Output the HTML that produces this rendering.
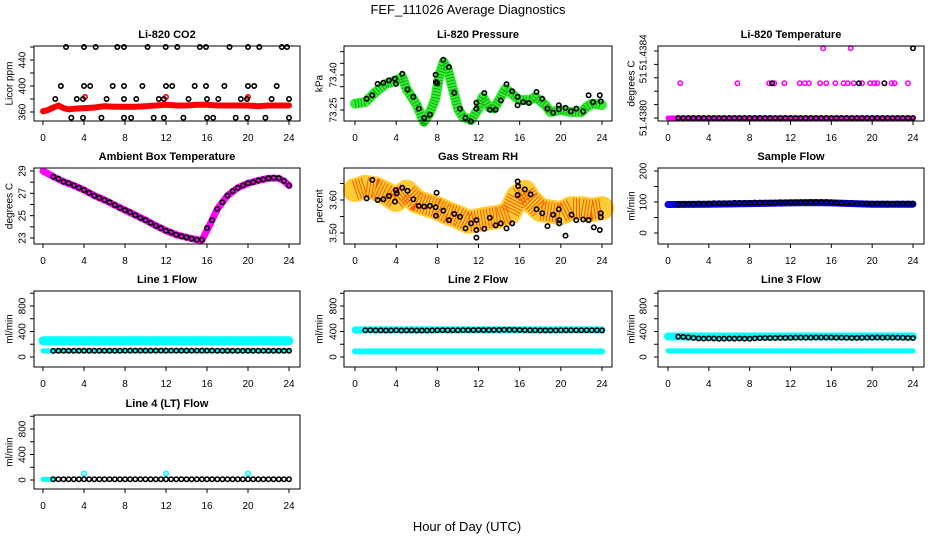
<!DOCTYPE html>
<html><head><meta charset="utf-8">
<style>
html,body{margin:0;padding:0;background:#fff;}
svg{display:block;font-family:"Liberation Sans",Arial,sans-serif;}
</style></head>
<body>
<svg id="chart" width="936" height="540" viewBox="0 0 936 540" xmlns="http://www.w3.org/2000/svg">
<rect width="936" height="540" fill="#fff"/>
<text x="468" y="14" text-anchor="middle" font-size="13">FEF_111026  Average Diagnostics</text>
<text x="467" y="531" text-anchor="middle" font-size="13">Hour of Day (UTC)</text>
</svg>
<script>
// ---- shared hours for hourly-average circles ----
const circHours = [1,1.5,2,2.5,3,3.5,4,4.5,5,5.5,6,6.5,7,7.5,8,8.5,9,9.5,10,10.5,11,11.5,12,12.5,13,13.5,14,14.5,15,15.5,16,16.5,17,17.5,18,18.5,19,19.5,20,20.5,21,21.5,22,22.5,23,23.5,24];
const xTicks = [0,4,8,12,16,20,24];

// ---- CO2 ----
const co2BandHours = [0,0.5,1,1.5,2,2.5,3,4,5,6,7,8,9,10,11,12,13,14,15,16,17,18,19,20,21,22,23,24];
const co2BandVals = [361,363,367,370,366,364,365,366,367,369,368,368,368,369,370,371,370,370,371,371,370,370,370,370,369,370,370,370];
const co2RedHours = [4.1,12,20];
const co2RedVals = [383,383,383];
const co2BlkHours = [2.24,4.0,5.14,7.25,7.9,10.2,11.97,13.1,15.3,15.9,18.2,20.0,21.1,23.3,23.8, 1.75,4.0,4.6,6.8,7.9,9.7,12,12.6,14.8,15.9,17.7,20,20.6,22.8, 1.2,3.3,3.9,6.2,7.9,9.1,11.3,11.8,14.2,16.0,17.1,19.3,19.9,22.3,24, 2.76,3.9,5.7,7.9,8.6,10.8,11.8,13.7,16,16.6,18.8,19.9,21.7,24];
const co2BlkVals = [460,460,460,460,460,460,460,460,460,460,460,460,460,460,460, 400,400,400,400,400,400,400,400,400,400,400,400,400,400, 380,380,380,380,380,380,380,380,380,380,380,380,380,380,380, 351,351,351,351,351,351,351,351,351,351,351,351,351,351];

// ---- Pressure ----
const presBandHours = [0,1,2,3,4,4.6,5,6,6.7,7.3,7.8,8.2,8.6,9,9.5,10,10.5,11.3,12,12.4,13,13.5,14,14.6,15.2,16,17,17.5,18.5,19,20,21,22,22.5,23,24];
const presBandVals = [73.277,73.284,73.327,73.362,73.377,73.391,73.341,73.271,73.199,73.241,73.298,73.400,73.455,73.427,73.341,73.256,73.220,73.207,73.256,73.306,73.263,73.256,73.293,73.341,73.320,73.293,73.293,73.306,73.271,73.241,73.250,73.241,73.241,73.263,73.277,73.271];
const presBlkHours = [1.13,1.68,2.2,2.75,3.3,3.88,3.98,4.6,5.1,5.66,6.2,6.73,7.28,7.83,7.86,8.0,8.58,9.13,9.64,10.2,10.74,11.26,11.8,11.8,12.56,13.1,13.66,14.17,14.72,15.27,15.8,15.8,16.34,16.9,17.64,18.19,18.7,19.25,19.8,19.8,20.45,20.97,21.5,22.17,22.7,23.14,23.79,23.88];
const presBlkVals = [73.298,73.313,73.362,73.367,73.377,73.384,73.362,73.405,73.338,73.306,73.256,73.216,73.230,73.401,73.370,73.365,73.465,73.434,73.324,73.256,73.216,73.202,73.281,73.256,73.323,73.251,73.251,73.291,73.360,73.330,73.306,73.270,73.284,73.280,73.327,73.298,73.256,73.238,73.270,73.253,73.259,73.244,73.256,73.244,73.313,73.284,73.313,73.287];

// ---- Li-820 Temperature ----
const ltBandHours = [0,24];
const ltBandVals = [51.4380,51.4380];
const ltMagHours = [1.2,6.8,9.9,10.4,11.4,12.9,13.4,13.8,14.9,15.5,16.4,17.2,17.6,18.2,19.0,19.8,20.2,20.5,21.9,22.2,23.5,15.2,17.9];
const ltMagVals = [51.43826,51.43826,51.43826,51.43826,51.43826,51.43826,51.43826,51.43826,51.43826,51.43826,51.43826,51.43826,51.43826,51.43826,51.43826,51.43826,51.43826,51.43826,51.43826,51.43826,51.43826,51.43852,51.43852];
const ltBlkVals = [51.4380,51.4380,51.4380,51.4380,51.4380,51.4380,51.4380,51.4380,51.4380,51.4380,51.4380,51.4380,51.4380,51.4380,51.4380,51.4380,51.4380,51.4380,51.4380,51.4380,51.4380,51.4380,51.4380,51.4380,51.4380,51.4380,51.4380,51.4380,51.4380,51.4380,51.4380,51.4380,51.4380,51.4380,51.4380,51.4380,51.4380,51.4380,51.4380,51.4380,51.4380,51.4380,51.4380,51.4380,51.4380,51.4380,51.4380];
const ltBlkExtraHours = [10.2,18.7,21.2,24];
const ltBlkExtraVals = [51.43826,51.43826,51.43826,51.43852];

// ---- Ambient Box Temperature ----
const ambBandHours = [0,1,2,3,4,5,6,7,8,9,10,11,12,13,14,15,15.5,16,16.5,17,18,19,20,21,22,23,23.5,24];
const ambBandVals = [29.0,28.5,28.05,27.7,27.3,26.8,26.4,25.95,25.5,25.05,24.6,24.1,23.65,23.3,23.05,22.85,22.8,23.7,24.6,25.6,26.8,27.5,27.9,28.15,28.35,28.35,28.1,27.7];
const ambBlkVals = [28.5,28.3,28.05,27.9,27.7,27.5,27.3,27.05,26.8,26.6,26.4,26.2,25.95,25.7,25.5,25.3,25.05,24.8,24.6,24.35,24.1,23.9,23.65,23.5,23.3,23.15,23.05,22.95,22.85,22.85,23.9,24.6,25.6,26.2,26.8,27.2,27.5,27.7,27.9,28.0,28.15,28.25,28.35,28.4,28.35,28.1,27.7];

// ---- Gas Stream RH ----
const rhBandHours = [0,1,2,3,4,5,6,7,8,9,10,11,12,13,14,15,15.8,16.5,17,18,19,20,21,22,23,24];
const rhBandVals = [3.630,3.640,3.635,3.620,3.600,3.625,3.595,3.585,3.575,3.560,3.549,3.534,3.539,3.545,3.549,3.560,3.610,3.625,3.600,3.570,3.565,3.560,3.575,3.575,3.570,3.575];
const rhBlkHours = [1.13,1.68,2.2,2.75,3.3,3.88,3.98,4.05,4.6,5.1,5.66,6.2,6.73,7.28,7.83,7.93,7.86,8.58,9.13,9.64,10.2,10.74,11.26,11.8,11.8,11.8,12.56,13.1,13.66,14.17,14.72,15.27,15.8,15.86,15.8,16.5,17.06,17.64,18.19,18.7,19.25,19.8,19.84,19.84,20.45,21.04,21.5,22.17,22.7,23.2,23.79,23.88,23.88];
const rhBlkVals = [3.605,3.661,3.600,3.602,3.612,3.595,3.630,3.620,3.637,3.628,3.602,3.582,3.580,3.582,3.578,3.622,3.552,3.568,3.539,3.558,3.549,3.514,3.529,3.539,3.509,3.486,3.513,3.546,3.523,3.529,3.514,3.529,3.656,3.642,3.615,3.632,3.617,3.572,3.560,3.521,3.555,3.572,3.539,3.529,3.492,3.555,3.539,3.541,3.539,3.517,3.509,3.560,3.548];

// ---- Sample Flow ----
const sfBandHours = [0,4,8,12,14,16,20,24];
const sfBandVals = [92,93,95,97,98,97,93,93];
const sfBlkVals = [93,94,94,94,95,94,95,96,96,96,96,97,97,97,97,98,98,98,98,98,99,99,99,99,99,99,100,100,100,100,99,97,96,96,96,95,95,95,95,95,95,95,94,95,95,95,95];

// ---- Line flows ----
const l1UpperHours = [0,24];  const l1UpperVals = [255,255];
const l1LowerHours = [0,24];  const l1LowerVals = [95,95];
const l1BlkVals = [96,97,97,97,98,98,98,98,99,99,98,99,99,99,100,100,100,100,101,100,101,101,101,101,101,100,100,100,101,101,101,100,99,99,99,98,98,98,97,97,97,97,97,97,97,97,97];
const l2UpperHours = [0,24];  const l2UpperVals = [425,425];
const l2LowerHours = [0,24];  const l2LowerVals = [88,88];
const l2BlkVals = [420,420,418,418,415,418,420,416,418,418,416,415,415,418,420,422,420,420,420,422,422,422,424,422,423,424,424,426,426,425,424,422,420,420,418,418,417,418,420,420,420,420,420,420,420,420,418];
const l3UpperHours = [0,24];  const l3UpperVals = [322,322];
const l3LowerHours = [0,24];  const l3LowerVals = [95,95];
const l3BlkVals = [320,315,308,300,292,288,292,290,285,288,290,288,290,288,286,292,296,298,298,298,300,300,302,304,304,304,304,306,306,306,306,305,304,302,300,300,302,304,305,306,304,306,304,304,302,300,298];
const l4BandHours = [0,1];  const l4BandVals = [10,10];
const l4CyanHours = [4,12,20]; const l4CyanVals = [100,100,100];
const l4BlkVals = [12,12,12,12,12,12,12,12,12,12,12,12,12,12,12,12,12,12,12,12,12,12,12,12,12,12,12,12,12,12,12,12,12,12,12,12,12,12,12,12,12,12,12,12,12,12,12];

// ---- layout ----
const cols = [{x0:34,x1:300,h0:43,h24:289,tl:22,yl:9},{x0:344,x1:612,h0:355,h24:602,tl:333,yl:319},{x0:658,x1:924,h0:668,h24:913,tl:643,yl:631}];
const rows = [{y0:46,y1:121},{y0:168,y1:244},{y0:291,y1:367},{y0:415,y1:489}];
const NS = 'http://www.w3.org/2000/svg';
const svg = document.getElementById('chart');

function mk(tag, parent, attrs){
  const el = document.createElementNS(NS, tag);
  for (const k in attrs) el.setAttribute(k, attrs[k]);
  parent.appendChild(el);
  return el;
}

function panel(ci, ri, name, title, ylab, v0, p0, v1, p1, ticks, labels){
  const c = cols[ci], r = rows[ri];
  const g = mk('g', svg, {});
  
  
  const xs = h => c.h0 + h * (c.h24 - c.h0) / 24;
  const ys = v => p0 + (v - v0) * (p1 - p0) / (v1 - v0);
  const plot = mk('g', g, {});
  
  
  const box = mk('rect', g, {x:c.x0, y:r.y0, width:c.x1-c.x0, height:r.y1-r.y0, fill:'none', stroke:'#000', 'stroke-width':1});
  
  
  const t = mk('text', g, {x:(c.x0+c.x1)/2, y:r.y0-8, 'text-anchor':'middle', 'font-size':11, 'font-weight':'bold'});
  t.textContent = title;
  
  
  const yl = mk('text', g, {x:c.yl, y:(r.y0+r.y1)/2, 'text-anchor':'middle', 'font-size':10, transform:'rotate(-90 '+c.yl+' '+((r.y0+r.y1)/2)+')', dy:'0.35em'});
  yl.textContent = ylab;
  
  
  const xa = mk('g', g, {});
  
  
  mk('line', xa, {x1:xs(0), x2:xs(24), y1:r.y1, y2:r.y1, stroke:'#000'});
  xTicks.forEach(h => {
    mk('line', xa, {x1:xs(h), x2:xs(h), y1:r.y1, y2:r.y1+4, stroke:'#000'});
    const tl = mk('text', xa, {x:xs(h), y:r.y1+20, 'text-anchor':'middle', 'font-size':10});
    tl.textContent = h;
    
    
  });
  const ya = mk('g', g, {});
  
  
  ticks.forEach(v => {
    mk('line', ya, {x1:c.x0-4, x2:c.x0, y1:ys(v), y2:ys(v), stroke:'#000'});
  });
  labels.forEach(l => {
    const yy = ys(l[0]);
    const tl = mk('text', ya, {x:c.tl, y:yy, 'text-anchor':'middle', 'font-size':10, dy:'0.35em', transform:'rotate(-90 '+c.tl+' '+yy+')'});
    tl.textContent = l[1];
    
    
  });
  return {plot, xs, ys};
}

function band(p, hours, vals, color, width, name){
  const pts = hours.map((h,i) => p.xs(h).toFixed(1) + ',' + p.ys(vals[i]).toFixed(1)).join(' ');
  const pl = mk('polyline', p.plot, {points:pts, fill:'none', stroke:color, 'stroke-width':width, 'stroke-linejoin':'round', 'stroke-linecap':'round'});
  
  
  return pl;
}
function texture(pl, dash){
  pl.setAttribute('stroke-dasharray', dash);
  pl.setAttribute('stroke-linecap', 'butt');
}
function dots(p, hours, vals, color, name){
  const g = mk('g', p.plot, {});
  
  
  for (let i = 0; i < vals.length; i++){
    const c = mk('circle', g, {cx:p.xs(hours[i]).toFixed(1), cy:p.ys(vals[i]).toFixed(1), r:2.2, fill:'none', stroke:color, 'stroke-width':1.6});
    
    
  }
}

// Li-820 CO2
let p = panel(0,0,'co2','Li-820 CO2','Licor ppm',360,112,440,60,[360,380,400,420,440,460],[[360,'360'],[400,'400'],[440,'440']]);
band(p, co2BandHours, co2BandVals, '#ff0000', 6, 'co2-raw-band');
dots(p, co2RedHours, co2RedVals, '#ff0000', 'co2-raw-outliers');
dots(p, co2BlkHours, co2BlkVals, '#000', 'co2-hourly-averages');

// Pressure
p = panel(1,0,'pressure','Li-820 Pressure','kPa',73.25,110,73.40,75,[73.25,73.30,73.35,73.40,73.45,73.50],[[73.25,'73.25'],[73.40,'73.40']]);
band(p, presBandHours, presBandVals, '#33ee33', 10, 'pressure-raw-band');
texture(band(p, presBandHours, presBandVals, '#11aa11', 8, 'pressure-raw-texture'), '1 2');
dots(p, presBlkHours, presBlkVals, '#000', 'pressure-hourly-averages');

// Li-820 Temperature
p = panel(2,0,'licor-temp','Li-820 Temperature','degrees C',51.4380,118,51.4385,51,[51.4380,51.4381,51.4382,51.4383,51.4384,51.4385],[[51.4380,'51.4380'],[51.4383,'51'],[51.43849,'51.4384']]);
band(p, ltBandHours, ltBandVals, '#ff00ff', 5, 'licor-temp-raw-band');
dots(p, ltMagHours, ltMagVals, '#ff00ff', 'licor-temp-raw-points');
dots(p, circHours, ltBlkVals, '#000', 'licor-temp-hourly-averages');
dots(p, ltBlkExtraHours, ltBlkExtraVals, '#000', 'licor-temp-hourly-averages-high');

// Ambient
p = panel(0,1,'ambient-temp','Ambient Box Temperature','degrees C',23,238,29,171,[23,24,25,26,27,28,29],[[23,'23'],[25,'25'],[27,'27'],[29,'29']]);
band(p, ambBandHours, ambBandVals, '#ff00ff', 7, 'ambient-raw-band');
dots(p, circHours, ambBlkVals, '#000', 'ambient-hourly-averages');

// RH
p = panel(1,1,'gas-rh','Gas Stream RH','percent',3.50,233,3.60,200,[3.50,3.55,3.60,3.65],[[3.50,'3.50'],[3.60,'3.60']]);
band(p, rhBandHours, rhBandVals, '#ffcc33', 24, 'rh-raw-band');
texture(band(p, rhBandHours, rhBandVals, '#ff5500', 20, 'rh-raw-texture'), '1 2');
dots(p, rhBlkHours, rhBlkVals, '#000', 'rh-hourly-averages');

// Sample flow
p = panel(2,1,'sample-flow','Sample Flow','ml/min',0,233,200,171,[0,50,100,150,200],[[0,'0'],[100,'100'],[200,'200']]);
band(p, sfBandHours, sfBandVals, '#0000ee', 7, 'sample-flow-raw-band');
dots(p, circHours, sfBlkVals, '#000', 'sample-flow-hourly-averages');

const flowTicks = [0,200,400,600,800,1000];
const flowLabels = [[0,'0'],[400,'400'],[800,'800']];
// Line 1
p = panel(0,2,'line1-flow','Line 1 Flow','ml/min',0,357,800,306,flowTicks,flowLabels);
band(p, l1UpperHours, l1UpperVals, '#00ffff', 9, 'line1-raw-upper');
band(p, l1LowerHours, l1LowerVals, '#00ffff', 5, 'line1-raw-lower');
dots(p, circHours, l1BlkVals, '#000', 'line1-hourly-averages');
// Line 2
p = panel(1,2,'line2-flow','Line 2 Flow','ml/min',0,357,800,306,flowTicks,flowLabels);
band(p, l2UpperHours, l2UpperVals, '#00ffff', 7, 'line2-raw-upper');
band(p, l2LowerHours, l2LowerVals, '#00ffff', 6, 'line2-raw-lower');
dots(p, circHours, l2BlkVals, '#000', 'line2-hourly-averages');
// Line 3
p = panel(2,2,'line3-flow','Line 3 Flow','ml/min',0,357,800,306,flowTicks,flowLabels);
band(p, l3UpperHours, l3UpperVals, '#00ffff', 8, 'line3-raw-upper');
band(p, l3LowerHours, l3LowerVals, '#00ffff', 5, 'line3-raw-lower');
dots(p, circHours, l3BlkVals, '#000', 'line3-hourly-averages');
// Line 4
p = panel(0,3,'line4-flow','Line 4 (LT) Flow','ml/min',0,480,800,429,flowTicks,flowLabels);
band(p, l4BandHours, l4BandVals, '#00ffff', 5, 'line4-raw-band');
dots(p, l4CyanHours, l4CyanVals, '#00ffff', 'line4-raw-spikes');
dots(p, circHours, l4BlkVals, '#000', 'line4-hourly-averages');
</script>
</body></html>
